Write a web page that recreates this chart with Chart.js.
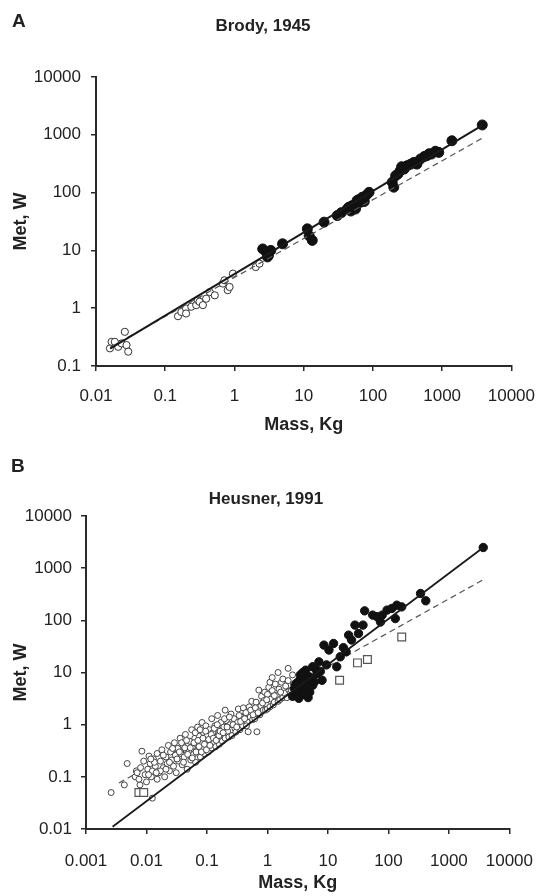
<!DOCTYPE html>
<html>
<head>
<meta charset="utf-8">
<script src="https://cdn.jsdelivr.net/npm/chart.js@4.4.1/dist/chart.umd.min.js"></script>
<style>
html,body{margin:0;padding:0;background:#fff;}
canvas{display:block;}
</style>
</head>
<body>
<canvas id="chartA" width="550" height="448"></canvas>
<canvas id="chartB" width="550" height="448"></canvas>
<script>
// ---------- Panel A: Brody, 1945 ----------
const titleA = 'Brody, 1945';
const xTicksA = [0.01, 0.1, 1, 10, 100, 1000, 10000];
const xLabelsA = ['0.01', '0.1', '1', '10', '100', '1000', '10000'];
const yTicksA = [0.1, 1, 10, 100, 1000, 10000];
const yLabelsA = ['0.1', '1', '10', '100', '1000', '10000'];
// open circles (small animals)
const openA = [
  [0.0159,0.202],[0.0168,0.262],[0.0187,0.262],[0.0209,0.215],[0.0234,0.246],[0.0261,0.39],[0.0276,0.23],[0.0292,0.177],
  [0.153,0.727],[0.171,0.86],[0.2,0.99],[0.2,0.81],[0.238,1.06],[0.28,1.13],[0.296,1.37],[0.313,1.29],[0.35,1.13],[0.39,1.46],[0.44,1.9],[0.52,1.67],
  [0.68,2.67],[0.716,3.04],[0.8,2.05],[0.85,2.33],[0.95,3.96],[2.03,5.15],[2.3,5.9]
];
// filled circles (large animals)
const filledA = [
  [2.56,10.6],[2.88,9.35],[3.0,7.7],[3.1,8.2],[3.35,10],[4.95,13],[11.3,23.6],[12,18],[13.3,14.9],[19.7,30.8],
  [30.5,40],[35,45],[42.5,52],[45,56],[48,48],[50,59.5],[56,52],[59,72.8],[62,75],[66,68],[70,83],[75,70],[80,90],[88,101],
  [190,151],[200,124],[213,196],[230,210],[248,239],[260,280],[282,255],[312,292],[350,310],[390,333],[432,311],[485,380],
  [550,420],[600,434],[650,470],[700,464],[800,520],[895,496],[1384,788],[3800,1480]
];
const fitSolidA = [[0.016,0.2],[3900,1490]];
const fitDashedA = [[0.016,0.21],[3900,890]];

// ---------- Panel B: Heusner, 1991 ----------
const titleB = 'Heusner, 1991';
const xTicksB = [0.001, 0.01, 0.1, 1, 10, 100, 1000, 10000];
const xLabelsB = ['0.001', '0.01', '0.1', '1', '10', '100', '1000', '10000'];
const yTicksB = [0.01, 0.1, 1, 10, 100, 1000, 10000];
const yLabelsB = ['0.01', '0.1', '1', '10', '100', '1000', '10000'];
const openB = [
  [0.0026,0.05],[0.0043,0.07],[0.0048,0.18],[0.0084,0.31],[0.0125,0.039],
  [0.0065,0.1],[0.0068,0.13],[0.0078,0.07],
  [0.007,0.12],[0.0075,0.09],[0.008,0.15],[0.009,0.2],[0.0095,0.11],[0.01,0.08],[0.0105,0.14],[0.011,0.25],[0.0115,0.18],[0.012,0.1],
  [0.0125,0.13],[0.013,0.22],[0.014,0.16],[0.015,0.09],[0.015,0.28],[0.016,0.12],[0.017,0.2],[0.018,0.33],[0.019,0.15],[0.02,0.1],
  [0.021,0.24],[0.022,0.18],[0.023,0.4],[0.024,0.13],[0.025,0.3],[0.026,0.21],[0.028,0.16],[0.029,0.45],[0.03,0.26],[0.031,0.12],
  [0.033,0.35],[0.034,0.2],[0.036,0.55],[0.037,0.28],[0.039,0.17],[0.04,0.4],[0.042,0.24],[0.044,0.65],[0.045,0.33],[0.047,0.14],
  [0.05,0.3],[0.052,0.48],[0.054,0.21],[0.056,0.8],[0.058,0.38],[0.06,0.27],[0.063,0.55],[0.065,0.19],[0.068,0.42],[0.07,0.9],
  [0.072,0.32],[0.075,0.6],[0.078,0.24],[0.08,0.45],[0.083,1.1],[0.085,0.35],[0.088,0.7],[0.09,0.28],[0.093,0.52],[0.096,0.95],
  [0.1,0.4],[0.1,0.62],[0.105,0.3],[0.11,0.8],[0.115,0.5],[0.12,1.3],[0.12,0.36],[0.125,0.7],[0.13,0.45],[0.135,0.95],[0.14,0.38],
  [0.145,0.58],[0.15,1.5],[0.155,0.8],[0.16,0.42],[0.17,1.1],[0.175,0.65],[0.18,0.48],[0.19,0.9],[0.2,1.9],[0.2,0.55],[0.21,1.2],
  [0.22,0.75],[0.23,0.58],[0.24,1.0],[0.25,1.6],[0.26,0.62],[0.28,1.3],[0.29,0.85],[0.3,0.72],[0.32,1.1],[0.33,2.0],[0.35,0.8],
  [0.37,1.4],[0.39,0.95],[0.4,2.1],[0.44,1.7],[0.46,1.15],[0.48,0.73],[0.5,2.2],[0.52,1.4],[0.55,2.8],[0.57,1.25],[0.6,1.8],
  [0.62,1.3],[0.65,2.7],[0.67,0.73],[0.72,4.6],[0.75,1.55],[0.78,2.3],[0.8,3.5],[0.85,1.9],[0.88,2.9],[0.9,4.2],[0.93,1.9],
  [0.95,2.5],[1.0,3.8],[1.0,2.0],[1.05,5.2],[1.1,2.2],[1.1,6.5],[1.15,3.1],[1.2,4.5],[1.2,8],[1.25,2.4],[1.3,2.7],[1.35,6.0],
  [1.4,3.6],[1.5,2.8],[1.5,10],[1.55,4.8],[1.6,3.0],[1.7,6.5],[1.8,3.3],[1.8,7.5],[1.9,4.0],[2.0,5.5],[2.1,3.3],[2.2,7.0],
  [2.2,12],[2.4,4.1],[2.5,4.5],[2.6,9],[2.7,6.0],[2.9,4.8],[3.1,5.0],
  [0.027,0.35],[0.032,0.22],[0.035,0.3],[0.038,0.45],[0.041,0.19],[0.043,0.36],[0.046,0.5],[0.048,0.27],[0.053,0.36],
  [0.057,0.23],[0.061,0.45],[0.064,0.7],[0.066,0.3],[0.071,0.5],[0.074,0.38],[0.077,0.8],[0.081,0.3],[0.086,0.55],
  [0.091,0.42],[0.095,0.75],[0.098,0.33],[0.107,0.52],[0.112,0.4],[0.118,0.65],[0.128,0.55],[0.132,0.85],[0.142,0.5],
  [0.148,1.0],[0.158,0.62],[0.165,0.75],[0.185,0.7],[0.195,1.3],[0.215,0.9],[0.235,1.4],[0.27,1.0],[0.31,0.9],[0.34,1.5],
  [0.36,1.15],[0.42,1.3],[0.45,0.95],[0.53,1.9],[0.58,1.55],[0.63,2.1],[0.7,1.7],[0.83,2.6],[0.97,3.0],[1.3,3.6],[1.65,4.2],
  [0.017,0.13],[0.019,0.26],[0.021,0.14],[0.024,0.19],[0.0135,0.19],[0.0145,0.12],[0.0108,0.11],[0.0118,0.22]
];
const filledB = [
  [3700,2490],[340,327],[415,237],[40.5,152],[55,126],[65,117],[79,126],[95,157],[114,169],[138,195],[166,181],[130,108],
  [74,93],[28,81],[38,81],[32,56],[22,52],[24.6,42],[8.6,33.5],[12.4,36],[10.4,27],[7.1,16],[5.6,12.9],[14,12.9],[8.0,7.1],
  [4.3,11.1],[3.85,8.3],[3.4,7.1],[3.0,6.2],[4.9,8.3],[3.6,5.3],[2.8,4.9],[4.3,4.6],[3.2,4.0],[5.6,5.7],[6.6,9.6],[3.85,10],
  [2.6,3.5],[2.9,5.6],[3.3,3.2],[3.7,6.8],[4.0,3.8],[4.5,6.0],[5.0,4.2],[5.3,7.5],[6.0,6.6],[4.7,3.3],[3.5,9],[6.2,12],
  [7.5,10.5],[9.5,14],[16,20],[20,25],[18,30]
];
const squaresB = [[166,48],[45,17.7],[30.8,15.3],[15.6,7.1],[0.0075,0.05],[0.009,0.05]];
const fitSolidB = [[0.00275,0.011],[3700,2490]];
const fitDashedB = [[0.0035,0.076],[3600,590]];

// ---------- helpers ----------
const FAMILY = '"Liberation Sans", Arial, Helvetica, sans-serif';
const INK = '#222';
const toPts = arr => arr.map(([x, y]) => ({x, y}));

const panelText = {
  id: 'panelText',
  afterDraw(chart, args, o) {
    const ctx = chart.ctx;
    ctx.save();
    ctx.fillStyle = INK;
    ctx.textBaseline = 'middle';
    ctx.textAlign = 'left';
    ctx.font = 'bold 19px ' + FAMILY;
    ctx.fillText(o.letter, o.letterX, o.letterY);
    ctx.textAlign = 'center';
    ctx.font = 'bold 17px ' + FAMILY;
    ctx.fillText(o.title, o.titleX, o.titleY);
    ctx.restore();
  }
};

function logAxis(min, max, vals, labels, title, o) {
  return {
    type: 'logarithmic',
    min, max,
    afterBuildTicks: s => { s.ticks = vals.map(v => ({value: v})); },
    afterFit: s => {
      if (o.width !== undefined) s.width = o.width;
      if (o.height !== undefined) s.height = o.height;
    },
    border: {display: true, color: '#2a2a2a', width: 2},
    grid: {display: true, drawOnChartArea: false, drawTicks: true, tickLength: 5, color: '#2a2a2a', lineWidth: 1.5},
    ticks: {
      autoSkip: false, maxRotation: 0, minRotation: 0, padding: o.pad, color: INK,
      font: {family: FAMILY, size: 17},
      callback: (v, i) => labels[i]
    },
    title: {display: true, text: title, color: INK, font: {family: FAMILY, size: 18, weight: 'bold'}, padding: o.titlePad}
  };
}

function lineDS(pts, dashed, width) {
  return {
    data: toPts(pts), showLine: true, pointRadius: 0, pointHoverRadius: 0,
    borderColor: dashed ? '#555' : '#1a1a1a', borderWidth: width,
    borderDash: dashed ? [6, 4] : [], fill: false
  };
}
function pointDS(pts, style, r, bg, border, bw) {
  return {
    data: toPts(pts), showLine: false, pointStyle: style, pointRadius: r, pointHoverRadius: r,
    pointBackgroundColor: bg, pointBorderColor: border, pointBorderWidth: bw
  };
}

const common = {
  responsive: false, animation: false, events: [],
  plugins: {legend: {display: false}, tooltip: {enabled: false}}
};

// ---------- Chart A ----------
new Chart(document.getElementById('chartA'), {
  type: 'scatter',
  data: {datasets: [
    lineDS(fitSolidA, false, 2),
    lineDS(fitDashedA, true, 1.2),
    pointDS(filledA, 'circle', 5, '#111', '#111', 1),
    pointDS(openA, 'circle', 3.6, '#fff', '#333', 1)
  ]},
  options: Object.assign({}, common, {
    layout: {padding: {left: 0, top: 77, right: 37, bottom: 0}},
    plugins: Object.assign({}, common.plugins, {
      panelText: {letter: 'A', letterX: 12, letterY: 22, title: titleA, titleX: 263, titleY: 26}
    }),
    scales: {
      x: logAxis(0.01, 10000, xTicksA, xLabelsA, 'Mass, Kg', {height: 82, pad: 15, titlePad: {top: 0, bottom: 12}}),
      y: logAxis(0.1, 10000, yTicksA, yLabelsA, 'Met, W', {width: 96, pad: 10, titlePad: {top: 10, bottom: 0}})
    }
  }),
  plugins: [panelText]
});

// ---------- Chart B ----------
new Chart(document.getElementById('chartB'), {
  type: 'scatter',
  data: {datasets: [
    lineDS(fitSolidB, false, 1.8),
    pointDS(filledB, 'circle', 4.2, '#111', '#111', 1),
    pointDS(squaresB, 'rect', 5.5, '#fff', '#555', 1.2),
    pointDS(openB, 'circle', 3, '#fff', '#444', 1),
    lineDS(fitDashedB, true, 1.2)
  ]},
  options: Object.assign({}, common, {
    layout: {padding: {left: 0, top: 68, right: 30, bottom: 0}},
    plugins: Object.assign({}, common.plugins, {
      panelText: {letter: 'B', letterX: 11, letterY: 19, title: titleB, titleX: 266, titleY: 51}
    }),
    scales: {
      x: logAxis(0.001, 10000, xTicksB, xLabelsB, 'Mass, Kg', {height: 67, pad: 17, titlePad: {top: 0, bottom: 2}}),
      y: logAxis(0.01, 10000, yTicksB, yLabelsB, 'Met, W', {width: 86, pad: 9, titlePad: {top: 10, bottom: 0}})
    }
  }),
  plugins: [panelText]
});
</script>
</body>
</html>
